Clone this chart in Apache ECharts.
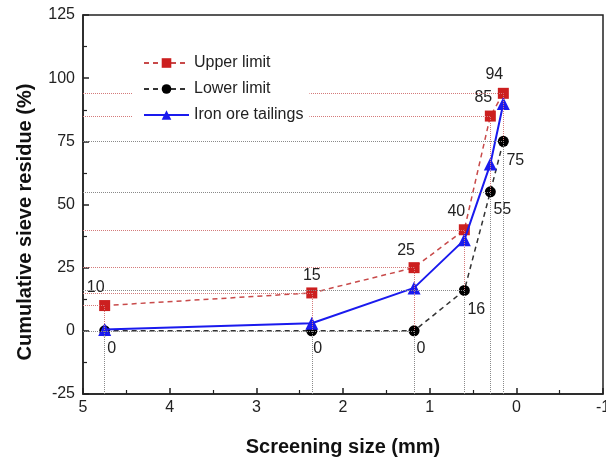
<!DOCTYPE html>
<html><head><meta charset="utf-8">
<script src="https://cdn.jsdelivr.net/npm/echarts@6/dist/echarts.min.js"></script>
<style>html,body{margin:0;padding:0;background:#fff}#c{width:606px;height:462px}</style>
</head><body><div id="c"></div>
<script>
var sizes = [4.75, 2.36, 1.18, 0.6, 0.3, 0.15];
var upperLimit = [10, 15, 25, 40, 85, 94];
var lowerLimit = [0, 0, 0, 16, 55, 75];
var tailings = [0.5, 3, 17, 36, 66, 90];
var xTicks = [5, 4, 3, 2, 1, 0, -1];
var yTicks = [-25, 0, 25, 50, 75, 100, 125];

var upperLabelOffsets = [[-9,0],[0,0],[-8,0],[-8,-1],[-7,-1],[-9,-1]];
var lowerLabelOffsets = [[7,0],[6,0],[7,0],[12,2],[12,0],[12,2]];

function pairs(ys){ return sizes.map(function(x,i){ return [x, ys[i]]; }); }
function drops(ys, color){
  var d = [];
  sizes.forEach(function(x,i){
    d.push([{coord:[xTicks[0], ys[i]]},{coord:[x, ys[i]]}]);
    d.push([{coord:[x, yTicks[0]]},{coord:[x, ys[i]]}]);
  });
  return {silent:true, symbol:'none', animation:false, label:{show:false},
    lineStyle:{type:'dotted', color:color, width:1}, data:d};
}
var labelFont = {fontFamily:'Liberation Sans, Arial', fontSize:16, color:'#222'};

var chart = echarts.init(document.getElementById('c'));
chart.setOption({
  animation:false,
  grid:{left:83, right:3, top:15, bottom:68, show:true, borderColor:'#222', borderWidth:1.5,
    outerBoundsMode:'none', containLabel:false},
  legend:{
    orient:'vertical', left:133, top:51, itemWidth:45, itemHeight:12, itemGap:10, z:10,
    backgroundColor:'#fff', padding:[4,6,4,10],
    textStyle:{fontFamily:'Liberation Sans, Arial', fontSize:16, color:'#222'},
    data:['Upper limit','Lower limit','Iron ore tailings']
  },
  xAxis:{
    type:'value', min:-1, max:5, interval:1, inverse:true,
    name:'Screening size (mm)', nameLocation:'middle', nameGap:43,
    nameTextStyle:{fontFamily:'Liberation Sans, Arial', fontSize:20, fontWeight:'bold', color:'#111'},
    axisLine:{onZero:false, lineStyle:{color:'#222', width:1.5}},
    axisTick:{inside:true, length:6, lineStyle:{color:'#222', width:1.5}},
    minorTick:{show:true, splitNumber:2, length:4, lineStyle:{color:'#222', width:1.2}},
    axisLabel:{fontFamily:'Liberation Sans, Arial', fontSize:16, color:'#222', margin:6,
      formatter:function(v){ return xTicks.indexOf(v) >= 0 ? String(v) : ''; }},
    splitLine:{show:false}
  },
  yAxis:{
    type:'value', min:-25, max:125, interval:25, position:'left',
    axisLine:{show:true, onZero:false, lineStyle:{color:'#222', width:1.5}},
    axisTick:{show:true, inside:true, length:6, lineStyle:{color:'#222', width:1.5}},
    minorTick:{show:true, splitNumber:2, length:4, lineStyle:{color:'#222', width:1.2}},
    axisLabel:{fontFamily:'Liberation Sans, Arial', fontSize:16, color:'#222', margin:8,
      formatter:function(v){ return yTicks.indexOf(v) >= 0 ? String(v) : ''; }},
    splitLine:{show:false}
  },
  graphic:[{
    type:'text', x:25, y:222, rotation:Math.PI/2,
    style:{text:'Cumulative sieve residue (%)', fontFamily:'Liberation Sans, Arial', fontSize:20,
      fontWeight:'bold', fill:'#111', textAlign:'center', textVerticalAlign:'middle'}
  }],
  series:[
    {
      name:'Upper limit', type:'line', z:3,
      data: pairs(upperLimit).map(function(p,i){
        return {value:p, label:Object.assign({show:true, position:'top', distance:4, offset:upperLabelOffsets[i]}, labelFont)};
      }),
      symbol:'rect', symbolSize:11,
      itemStyle:{color:'#cc1f1f'},
      lineStyle:{color:'#c84a4a', width:1.5, type:[5,4]},
      markLine: drops(upperLimit, '#d47a7a')
    },
    {
      name:'Lower limit', type:'line', z:3,
      data: pairs(lowerLimit).map(function(p,i){
        return {value:p, label:Object.assign({show:true, position:'bottom', distance:4, offset:lowerLabelOffsets[i]}, labelFont)};
      }),
      symbol:'circle', symbolSize:11,
      itemStyle:{color:'#000'},
      lineStyle:{color:'#333', width:1.5, type:[5,4]},
      markLine: drops(lowerLimit, '#8a8a8a')
    },
    {
      name:'Iron ore tailings', type:'line', z:4,
      data: pairs(tailings),
      symbol:'triangle', symbolSize:13,
      itemStyle:{color:'#1a1aee'},
      lineStyle:{color:'#1a1aee', width:2}
    }
  ]
});
</script></body></html>
